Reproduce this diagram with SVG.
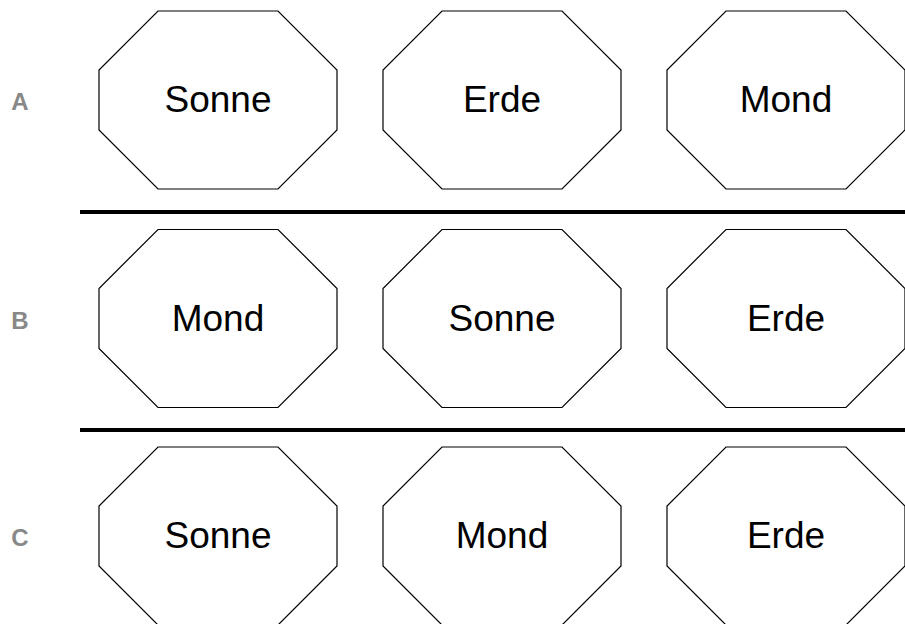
<svg xmlns="http://www.w3.org/2000/svg" width="905" height="624" viewBox="0 0 905 624">
<style>
.oct{fill:#fff;stroke:#000;stroke-width:1.2}
.t{font-family:"Liberation Sans",Arial,sans-serif;font-size:37px;fill:#000;text-anchor:middle}
.lbl{font-family:"Liberation Sans",Arial,sans-serif;font-size:24px;font-weight:bold;fill:#888;text-anchor:middle}
.sep{stroke:#000;stroke-width:4}
</style>
<defs>
<polygon id="oc" points="-60,-89 60,-89 119,-30 119,30 60,89 -60,89 -119,30 -119,-30"/>
</defs>
<rect width="905" height="624" fill="#fff"/>
<g id="labels">
<text class="lbl" x="20" y="110">A</text>
<text class="lbl" x="20" y="328.5">B</text>
<text class="lbl" x="20" y="546">C</text>
</g>
<g id="separators">
<line class="sep" x1="80" y1="212" x2="905" y2="212"/>
<line class="sep" x1="80" y1="430" x2="905" y2="430"/>
</g>
<g id="A1"><use href="#oc" class="oct" x="218" y="100"/><text class="t" x="218" y="112">Sonne</text></g>
<g id="A2"><use href="#oc" class="oct" x="502" y="100"/><text class="t" x="502" y="112">Erde</text></g>
<g id="A3"><use href="#oc" class="oct" x="786" y="100"/><text class="t" x="786" y="112">Mond</text></g>
<g id="B1"><use href="#oc" class="oct" x="218" y="318.5"/><text class="t" x="218" y="330.5">Mond</text></g>
<g id="B2"><use href="#oc" class="oct" x="502" y="318.5"/><text class="t" x="502" y="330.5">Sonne</text></g>
<g id="B3"><use href="#oc" class="oct" x="786" y="318.5"/><text class="t" x="786" y="330.5">Erde</text></g>
<g id="C1"><use href="#oc" class="oct" x="218" y="536"/><text class="t" x="218" y="548">Sonne</text></g>
<g id="C2"><use href="#oc" class="oct" x="502" y="536"/><text class="t" x="502" y="548">Mond</text></g>
<g id="C3"><use href="#oc" class="oct" x="786" y="536"/><text class="t" x="786" y="548">Erde</text></g>
</svg>
